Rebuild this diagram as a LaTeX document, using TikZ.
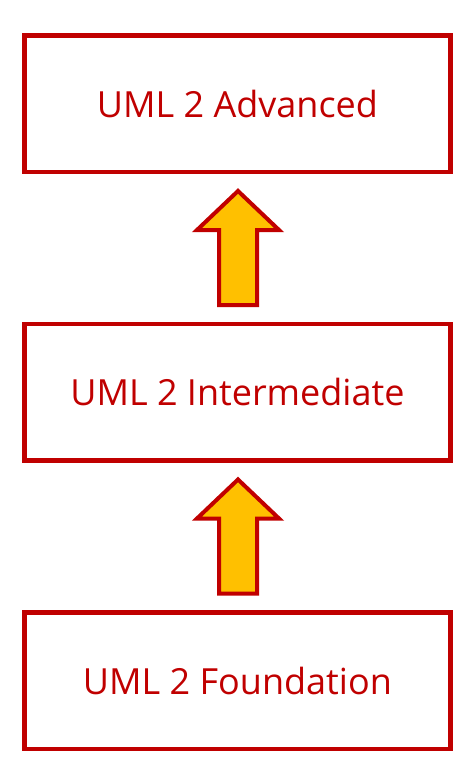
\documentclass[tikz,border=0pt]{standalone}
\usepackage{fontspec}
\setmainfont{Open Sans}
\definecolor{umlred}{HTML}{C00000}
\definecolor{umlgold}{HTML}{FFC000}
\begin{document}
\begin{tikzpicture}[x=1pt,y=-1pt,
  level/.style={draw=umlred,line width=4.5pt,minimum width=426pt,minimum height=136.5pt,
    inner sep=0pt,text=umlred,font=\fontsize{36}{40}\selectfont},
  blockarrow/.style={draw=umlred,fill=umlgold,line width=4pt,miter limit=10}]
\useasboundingbox (0,0) rectangle (475,778);
\node[level] (adv) at (237.4,103.75) {UML 2 Advanced};
\node[level] (int) at (237.4,392) {UML 2 Intermediate};
\node[level] (fnd) at (237.4,680.75) {UML 2 Foundation};
% block arrows: tip coordinate below upper box, base above lower box
\coordinate (a1) at (238,191);
\coordinate (a2) at (238,479.5);
\draw[blockarrow] (a1) -- ++(41,39) -- ++(-22,0) -- ++(0,75) -- ++(-38,0) -- ++(0,-75) -- ++(-22,0) -- cycle;
\draw[blockarrow] (a2) -- ++(41,39) -- ++(-22,0) -- ++(0,75) -- ++(-38,0) -- ++(0,-75) -- ++(-22,0) -- cycle;
\end{tikzpicture}
\end{document}
